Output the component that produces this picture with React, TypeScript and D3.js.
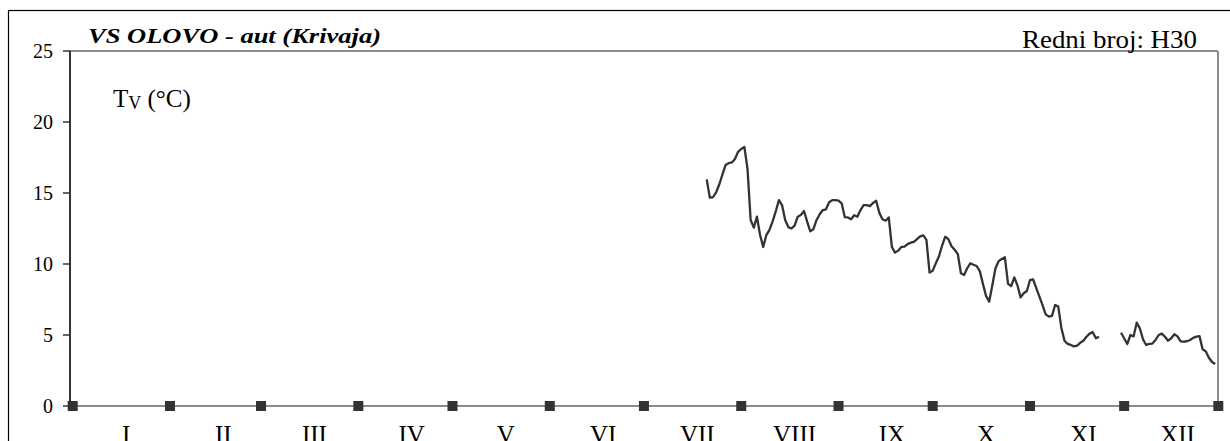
import React from "react";
import * as d3 from "d3";

// Daily water temperature (°C), day index counted from 1 January (leap year)
const startDay = 202;
const temps: (number | null)[] = [
  15.96, 14.67, 14.7, 15.05, 15.6, 16.3, 16.97, 17.1, 17.15, 17.4, 17.9, 18.1, 18.24,
  16.7, 13.1, 12.56, 13.33, 12.04, 11.2, 12.04, 12.4, 13.0, 13.7, 14.5, 14.15, 13.1,
  12.6, 12.5, 12.7, 13.33, 13.45, 13.73, 12.98, 12.3, 12.46, 13.1, 13.5, 13.8, 13.85,
  14.35, 14.5, 14.5, 14.46, 14.27, 13.3, 13.28, 13.15, 13.43, 13.33, 13.8, 14.15, 14.15,
  14.08, 14.3, 14.45, 13.6, 13.15, 13.05, 13.28, 11.2, 10.8, 10.94, 11.2, 11.22, 11.4,
  11.5, 11.56, 11.75, 11.95, 12.02, 11.7, 9.4, 9.53, 10.05, 10.55, 11.3, 11.92, 11.75,
  11.25, 11.0, 10.7, 9.35, 9.23, 9.7, 10.05, 9.95, 9.86, 9.5, 8.6, 7.75, 7.35, 8.5, 9.7,
  10.2, 10.35, 10.47, 8.6, 8.45, 9.06, 8.5, 7.65, 7.94, 8.1, 8.87, 8.92, 8.3, 7.7, 7.1,
  6.45, 6.29, 6.35, 7.11, 7.0, 5.5, 4.6, 4.37, 4.3, 4.2, 4.25, 4.45, 4.6, 4.88, 5.1, 5.2,
  4.77, 4.88,
  null, null, null, null, null, null,
  5.16, 4.77, 4.37, 5.0, 4.9, 5.87, 5.47, 4.7, 4.3, 4.37, 4.4, 4.65, 5.0, 5.1, 4.88, 4.6,
  4.77, 5.05, 4.9, 4.55, 4.53, 4.56, 4.65, 4.8, 4.88, 4.92, 4.0, 3.85, 3.4, 3.1, 2.96,
];

const monthLabels = ["I", "II", "III", "IV", "V", "VI", "VII", "VIII", "IX", "X", "XI", "XII"];
const monthStarts = [0, 31, 60, 91, 121, 152, 182, 213, 244, 274, 305, 335];
const markerDays = [...monthStarts, 365];
const yTicks = [0, 5, 10, 15, 20, 25];

const W = 1230;
const H = 441;
const L = 70, R = 1218, T = 51, B = 406;
const serif = "Liberation Serif, Times New Roman, serif";
const ink = "#333333";
const grey = "#8c8c8c";

export default function App() {
  const x = d3.scaleLinear().domain([-0.86, 364.9]).range([L, R]);
  const y = d3.scaleLinear().domain([0, 25]).range([B, T]);
  const pts = temps.map((v, i) => ({ d: startDay + i, v }));
  const line = d3
    .line<{ d: number; v: number | null }>()
    .defined((p) => p.v !== null)
    .x((p) => x(p.d))
    .y((p) => y(p.v as number));

  return (
    <svg
      width={W}
      height={H}
      style={{ position: "absolute", left: 0, top: 0, background: "#fff" }}
      fontFamily={serif}
    >
      <rect x={0} y={0} width={W} height={H} fill="#fff" />
      {/* outer chart border */}
      <rect x={8.5} y={10.5} width={W + 20} height={H + 20} fill="none" stroke="#000" strokeWidth={1.2} />
      {/* plot border top/right */}
      <line x1={L} x2={R} y1={T} y2={T} stroke={grey} strokeWidth={2} />
      <line x1={R} x2={R} y1={T} y2={B} stroke={grey} strokeWidth={2} />
      {/* zero line */}
      <line x1={L} x2={R} y1={y(0)} y2={y(0)} stroke={grey} strokeWidth={2} />
      {/* left axis */}
      <line x1={L} x2={L} y1={T} y2={B} stroke={ink} strokeWidth={2} />
      {yTicks.map((t) => (
        <g key={t}>
          <line x1={L - 7} x2={L} y1={y(t)} y2={y(t)} stroke={ink} strokeWidth={1.5} />
          <text x={L - 17} y={y(t) + 6.5} textAnchor="end" fontSize={20} fontFamily={serif} fill="#000">
            {t}
          </text>
        </g>
      ))}
      {/* month markers */}
      {markerDays.map((d) => (
        <rect key={d} x={x(d) - 5} y={y(0) - 5} width={10} height={10} fill={ink} />
      ))}
      {monthLabels.map((m, i) => (
        <text key={m} x={x(monthStarts[i] + 17)} y={443} textAnchor="middle" fontSize={25} fontFamily={serif} fill="#000">
          {m}
        </text>
      ))}
      {/* data line */}
      <path d={line(pts) || ""} fill="none" stroke={ink} strokeWidth={2.3} strokeLinejoin="round" />
      {/* titles */}
      <text x={88} y={43} fontSize={22} fontWeight="bold" fontStyle="italic" fontFamily={serif} textLength={293} lengthAdjust="spacingAndGlyphs" fill="#000">
        VS OLOVO - aut (Krivaja)
      </text>
      <text x={1022} y={48} fontSize={25} fontFamily={serif} textLength={175} lengthAdjust="spacingAndGlyphs" fill="#000">
        Redni broj: H30
      </text>
      <text x={113} y={107} fontSize={25} fontFamily={serif} fill="#000">
        T<tspan fontSize={18} dy={2}>V</tspan>
        <tspan dy={-2}> (°C)</tspan>
      </text>
    </svg>
  );
}
